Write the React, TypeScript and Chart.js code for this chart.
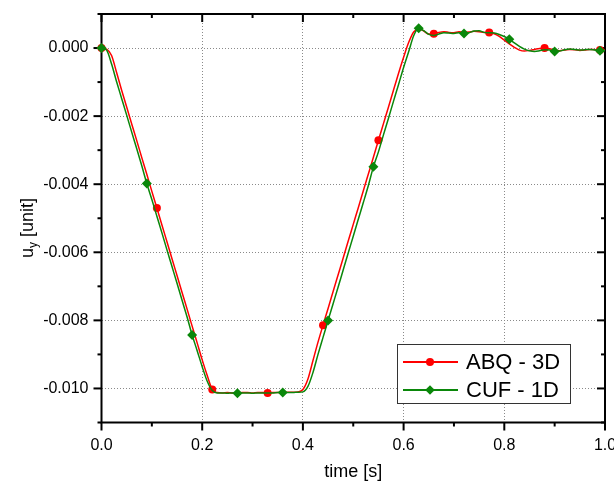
import React, { useEffect, useRef } from 'react';
import { Chart, registerables } from 'chart.js';

Chart.register(...registerables);

// ---------- data ----------
const time = [
  0.0, 0.01, 0.02, 0.03, 0.04, 0.05, 0.06, 0.07, 0.08, 0.09,
  0.1, 0.11, 0.12, 0.13, 0.14, 0.15, 0.16, 0.17, 0.18, 0.19,
  0.2, 0.21, 0.22, 0.23, 0.24, 0.25, 0.26, 0.27, 0.28, 0.29,
  0.3, 0.31, 0.32, 0.33, 0.34, 0.35, 0.36, 0.37, 0.38, 0.39,
  0.4, 0.41, 0.42, 0.43, 0.44, 0.45, 0.46, 0.47, 0.48, 0.49,
  0.5, 0.51, 0.52, 0.53, 0.54, 0.55, 0.56, 0.57, 0.58, 0.59,
  0.6, 0.61, 0.62, 0.63, 0.64, 0.65, 0.66, 0.67, 0.68, 0.69,
  0.7, 0.71, 0.72, 0.73, 0.74, 0.75, 0.76, 0.77, 0.78, 0.79,
  0.8, 0.81, 0.82, 0.83, 0.84, 0.85, 0.86, 0.87, 0.88, 0.89,
  0.9, 0.91, 0.92, 0.93, 0.94, 0.95, 0.96, 0.97, 0.98, 0.99,
  1.0,
];

const abq3D = [
  0, -0.00003, -0.00022, -0.00072, -0.00124, -0.00173, -0.00223, -0.00272, -0.00322, -0.00371,
  -0.00421, -0.0047, -0.0052, -0.00569, -0.00619, -0.00668, -0.00718, -0.00767, -0.00817, -0.00866,
  -0.00916, -0.00962, -0.01003, -0.01012, -0.01013, -0.01012, -0.01013, -0.01013, -0.01012, -0.01012,
  -0.01013, -0.01012, -0.01012, -0.01013, -0.01012, -0.01012, -0.01012, -0.01011, -0.01011, -0.0101,
  -0.01003, -0.00972, -0.00918, -0.00864, -0.00814, -0.00765, -0.00715, -0.00666, -0.00617, -0.00567,
  -0.00518, -0.00469, -0.00419, -0.0037, -0.00321, -0.00271, -0.00222, -0.00173, -0.00123, -0.00074,
  -0.00027, 0.00016, 0.00047, 0.00056, 0.0005, 0.00041, 0.00042, 0.00046, 0.00048, 0.00046,
  0.00045, 0.00048, 0.00046, 0.00047, 0.00049, 0.00048, 0.00046, 0.00046, 0.00042, 0.00034,
  0.00023, 0.00012, 0.00002, -0.00006, -0.00009, -0.00007, -0.00004, -0.00001, 0.0, -0.00002,
  -0.00006, -0.00008, -0.00006, -0.00004, -0.00005, -0.00007, -0.00006, -0.00004, -0.00005, -0.00006,
  -0.00006,
];

const cuf1D = [
  0, -0.00006, -0.00047, -0.00099, -0.00148, -0.00197, -0.00247, -0.00296, -0.00346, -0.00398,
  -0.00445, -0.00494, -0.00543, -0.00593, -0.00642, -0.00691, -0.00741, -0.0079, -0.00843, -0.00889,
  -0.00936, -0.00979, -0.01006, -0.01013, -0.01013, -0.01014, -0.01013, -0.01014, -0.01013, -0.01013,
  -0.01014, -0.01013, -0.01013, -0.01013, -0.01013, -0.01012, -0.01012, -0.01012, -0.01012, -0.01011,
  -0.0101, -0.00994, -0.00953, -0.009, -0.0085, -0.008, -0.00751, -0.00702, -0.00652, -0.00602,
  -0.00553, -0.00503, -0.00454, -0.00404, -0.00349, -0.00305, -0.00255, -0.00206, -0.00156, -0.00107,
  -0.00057, -0.00011, 0.00036, 0.00058, 0.00051, 0.0004, 0.00037, 0.00041, 0.00045, 0.00044,
  0.00043, 0.00045, 0.00043, 0.00045, 0.0005, 0.00051, 0.00046, 0.00045, 0.00044, 0.0004,
  0.00034, 0.00026, 0.00015, 0.00005, -0.00003, -0.00008, -0.0001, -0.00008, -0.00005, -0.00006,
  -0.0001, -0.00009, -0.00005, -0.00003, -0.00004, -0.00006, -0.00005, -0.00004, -0.00006, -0.00008,
  -0.00007,
];

const seriesNames = ['ABQ - 3D', 'CUF - 1D'];

const xMajorTicks = [0.0, 0.2, 0.4, 0.6, 0.8, 1.0];
const xMinorTicks = [0.1, 0.3, 0.5, 0.7, 0.9];
const yMajorTicks = [0.0, -0.002, -0.004, -0.006, -0.008, -0.01];
const yMinorTicks = [0.001, -0.001, -0.003, -0.005, -0.007, -0.009, -0.011];

const xTitle = 'time [s]';
const yTitleMain = 'u';
const yTitleSub = 'y';
const yTitleRest = ' [unit]';

// ---------- styles ----------
const RED = '#ff0000';
const GREEN = '#0a870a';
const GRID = '#8a8a8a';
const FONT = '"Liberation Sans", Arial, sans-serif';

const framePlugin = {
  id: 'frameTicks',
  beforeDatasetsDraw(chart: any) {
    const { ctx, chartArea: a, scales } = chart;
    const x = scales.x;
    const y = scales.y;
    ctx.save();
    ctx.strokeStyle = '#000';
    ctx.lineWidth = 2;
    ctx.beginPath();
    ctx.rect(a.left, a.top, a.right - a.left, a.bottom - a.top);
    ctx.stroke();
    const seg = (x1: number, y1: number, x2: number, y2: number) => {
      ctx.beginPath();
      ctx.moveTo(x1, y1);
      ctx.lineTo(x2, y2);
      ctx.stroke();
    };
    const xt = (vals: number[], len: number) => {
      vals.forEach((v) => {
        const px = x.getPixelForValue(v);
        seg(px, a.bottom, px, a.bottom + len);
        seg(px, a.top, px, a.top + len);
      });
    };
    const yt = (vals: number[], len: number) => {
      vals.forEach((v) => {
        const py = y.getPixelForValue(v);
        seg(a.left, py, a.left - len, py);
        seg(a.right, py, a.right - len, py);
      });
    };
    xt(xMajorTicks, 8);
    xt(xMinorTicks, 4);
    yt(yMajorTicks, 8);
    yt(yMinorTicks, 4);

    // axis titles
    ctx.fillStyle = '#000';
    ctx.font = `18px ${FONT}`;
    ctx.textAlign = 'center';
    ctx.textBaseline = 'alphabetic';
    ctx.fillText(xTitle, (a.left + a.right) / 2, 477);

    ctx.save();
    ctx.translate(27, 228);
    ctx.rotate(-Math.PI / 2);
    ctx.textAlign = 'left';
    ctx.font = `18px ${FONT}`;
    const w1 = ctx.measureText(yTitleMain).width;
    const w3 = ctx.measureText(yTitleRest).width;
    ctx.font = `12px ${FONT}`;
    const w2 = ctx.measureText(yTitleSub).width;
    const total = w1 + w2 + w3;
    let cx = -total / 2;
    ctx.font = `18px ${FONT}`;
    ctx.fillText(yTitleMain, cx, 6);
    cx += w1;
    ctx.font = `12px ${FONT}`;
    ctx.fillText(yTitleSub, cx, 10);
    cx += w2;
    ctx.font = `18px ${FONT}`;
    ctx.fillText(yTitleRest, cx, 6);
    ctx.restore();
    ctx.restore();
  },
  afterDraw(chart: any) {
    const { ctx } = chart;
    ctx.save();
    const bx = 397.5, by = 344.5, bw = 173, bh = 59;
    ctx.fillStyle = '#fff';
    ctx.fillRect(bx, by, bw, bh);
    ctx.strokeStyle = '#333';
    ctx.lineWidth = 1;
    ctx.strokeRect(bx, by, bw, bh);
    const colors = [RED, GREEN];
    seriesNames.forEach((name, i) => {
      const ry = 362 + i * 28;
      ctx.strokeStyle = colors[i];
      ctx.lineWidth = 2;
      ctx.beginPath();
      ctx.moveTo(403, ry);
      ctx.lineTo(458, ry);
      ctx.stroke();
      ctx.fillStyle = colors[i];
      ctx.beginPath();
      if (i === 0) {
        ctx.arc(430, ry, 4, 0, Math.PI * 2);
      } else {
        ctx.moveTo(430, ry - 4.8);
        ctx.lineTo(434.8, ry);
        ctx.lineTo(430, ry + 4.8);
        ctx.lineTo(425.2, ry);
        ctx.closePath();
      }
      ctx.fill();
      ctx.fillStyle = '#000';
      ctx.font = `22px ${FONT}`;
      ctx.textAlign = 'left';
      ctx.textBaseline = 'middle';
      ctx.fillText(name, 466, ry + 1);
    });
    ctx.restore();
  },
};

export default function App() {
  const canvasRef = useRef<HTMLCanvasElement | null>(null);

  useEffect(() => {
    const canvas = canvasRef.current;
    if (!canvas) return;
    const chart = new Chart(canvas, {
      type: 'line',
      data: {
        datasets: [
          {
            label: seriesNames[0],
            data: time.map((t, i) => ({ x: t, y: abq3D[i] })),
            borderColor: RED,
            backgroundColor: RED,
            borderWidth: 1.5,
            pointStyle: 'circle',
            pointRadius: (c: any) => (c.dataIndex % 11 === 0 ? 4 : 0),
            pointBorderWidth: 0,
            cubicInterpolationMode: 'monotone',
            clip: false,
            order: 2,
          } as any,
          {
            label: seriesNames[1],
            data: time.map((t, i) => ({ x: t, y: cuf1D[i] })),
            borderColor: GREEN,
            backgroundColor: GREEN,
            borderWidth: 1.5,
            pointStyle: 'rectRot',
            pointRadius: (c: any) => (c.dataIndex % 9 === 0 ? 5 : 0),
            pointBorderWidth: 0,
            cubicInterpolationMode: 'monotone',
            clip: false,
            order: 1,
          } as any,
        ],
      },
      options: {
        animation: false,
        responsive: true,
        maintainAspectRatio: false,
        events: [],
        layout: { autoPadding: false, padding: { top: 14, right: 9, left: 0, bottom: 0 } },
        plugins: {
          legend: { display: false },
          tooltip: { enabled: false },
        },
        scales: {
          x: {
            type: 'linear',
            min: 0,
            max: 1,
            afterBuildTicks: (s: any) => {
              s.ticks = xMajorTicks.map((v) => ({ value: v }));
            },
            afterFit: (s: any) => {
              s.height = 60.5;
              s.paddingLeft = 0;
              s.paddingRight = 0;
              s.paddingTop = 0;
              s.paddingBottom = 0;
            },
            ticks: {
              autoSkip: false,
              maxRotation: 0,
              padding: 13,
              color: '#000',
              font: { family: FONT, size: 16 },
              callback: (v: any) => Number(v).toFixed(1),
            },
            grid: {
              drawTicks: false,
              color: (c: any) =>
                c.tick && (c.tick.value === 0 || c.tick.value === 1) ? 'rgba(0,0,0,0)' : GRID,
              lineWidth: 1,
            },
            border: { display: false, dash: [1, 2] },
          },
          y: {
            type: 'linear',
            min: -0.011,
            max: 0.001,
            afterBuildTicks: (s: any) => {
              s.ticks = yMajorTicks.map((v) => ({ value: v }));
            },
            afterFit: (s: any) => {
              s.width = 101.5;
              s.paddingLeft = 0;
              s.paddingRight = 0;
              s.paddingTop = 0;
              s.paddingBottom = 0;
            },
            ticks: {
              autoSkip: false,
              padding: 13,
              color: '#000',
              font: { family: FONT, size: 16 },
              callback: (v: any) => (Math.abs(v) < 1e-9 ? '0.000' : Number(v).toFixed(3)),
            },
            grid: {
              drawTicks: false,
              color: GRID,
              lineWidth: 1,
            },
            border: { display: false, dash: [1, 2] },
          },
        },
      } as any,
      plugins: [framePlugin],
    });
    return () => chart.destroy();
  }, []);

  return (
    <div style={{ position: 'absolute', left: 0, top: 0, width: 614, height: 483, background: '#fff' }}>
      <canvas ref={canvasRef} />
    </div>
  );
}
